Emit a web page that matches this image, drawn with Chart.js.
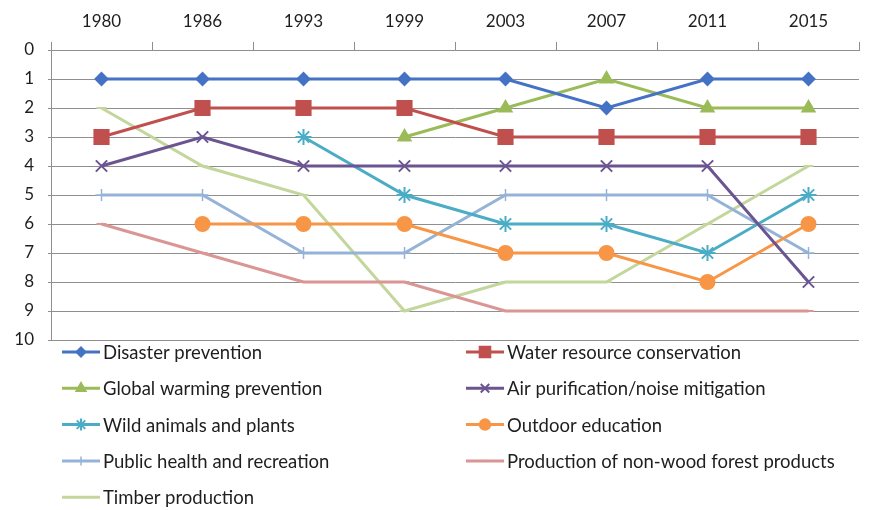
<!DOCTYPE html>
<html>
<head>
<meta charset="utf-8">
<script src="https://cdn.jsdelivr.net/npm/chart.js@4/dist/chart.umd.min.js"></script>
<style>
  html, body { margin: 0; background: #fff; }
  #wrap { width: 873px; height: 510px; position: relative; }
</style>
</head>
<body>
<div id="wrap"><canvas id="c"></canvas></div>
<script>
const years = ["1980", "1986", "1993", "1999", "2003", "2007", "2011", "2015"];
const yTicks = [0, 1, 2, 3, 4, 5, 6, 7, 8, 9, 10];

const disasterPrevention = [1, 1, 1, 1, 1, 2, 1, 1];
const waterConservation = [3, 2, 2, 2, 3, 3, 3, 3];
const globalWarming = [null, null, null, 3, 2, 1, 2, 2];
const airPurification = [4, 3, 4, 4, 4, 4, 4, 8];
const wildAnimals = [null, null, 3, 5, 6, 6, 7, 5];
const outdoorEducation = [null, 6, 6, 6, 7, 7, 8, 6];
const publicHealth = [5, 5, 7, 7, 5, 5, 5, 7];
const nonWoodProducts = [6, 7, 8, 8, 9, 9, 9, 9];
const timberProduction = [2, 4, 5, 9, 8, 8, 6, 4];

const FONT = "Lato";
const GRID = "#8f8f8f";

function series(label, data, color, style, radius, extra) {
  return Object.assign({
    label,
    data,
    borderColor: color,
    backgroundColor: color,
    pointBackgroundColor: color,
    pointBorderColor: color,
    pointStyle: style,
    pointRadius: radius,
    pointHoverRadius: radius,
    pointBorderWidth: 2,
    borderWidth: 3,
    tension: 0,
    fill: false
  }, extra || {});
}

const datasets = [
  series("Disaster prevention", disasterPrevention, "#4472c4", "rectRot", 6),
  series("Water resource conservation", waterConservation, "#c0504d", "rect", 10),
  series("Global warming prevention", globalWarming, "#9bbb59", "triangle", 7),
  series("Air purification/noise mitigation", airPurification, "#6b5591", "crossRot", 8),
  series("Wild animals and plants", wildAnimals, "#4bacc6", "star", 8),
  series("Outdoor education", outdoorEducation, "#f79646", "circle", 7),
  series("Public health and recreation", publicHealth, "#95b3d7", "cross", 6, { pointBorderWidth: 1.5 }),
  series("Production of non-wood forest products", nonWoodProducts, "#d99694", "line", 5),
  series("Timber production", timberProduction, "#c3d69b", "line", 5)
];

const bottomLegend = {
  id: "bottomLegend",
  afterDraw(chart) {
    const ctx = chart.ctx;
    chart.data.datasets.forEach((ds, i) => {
      const col = i % 2;
      const row = Math.floor(i / 2);
      const x = col ? 466 : 62;
      const y = 352 + row * 36.3;
      ctx.save();
      ctx.strokeStyle = ds.borderColor;
      ctx.fillStyle = ds.borderColor;
      ctx.lineWidth = 3;
      ctx.beginPath();
      ctx.moveTo(x, y);
      ctx.lineTo(x + 38, y);
      ctx.stroke();
      ctx.lineWidth = ds.pointBorderWidth;
      if (Chart.helpers && Chart.helpers.drawPoint) {
        Chart.helpers.drawPoint(ctx, {
          pointStyle: ds.pointStyle,
          radius: ds.pointRadius * 0.75,
          rotation: 0,
          borderWidth: ds.pointBorderWidth
        }, x + 19, y);
      }
      ctx.fillStyle = "#1e1e1e";
      ctx.font = "18.5px " + FONT;
      ctx.textBaseline = "middle";
      ctx.textAlign = "left";
      ctx.fillText(ds.label, x + 41, y + 1);
      ctx.restore();
    });
  }
};

new Chart(document.getElementById("c"), {
  type: "line",
  data: { labels: years, datasets },
  plugins: [bottomLegend],
  options: {
    responsive: true,
    maintainAspectRatio: false,
    animation: false,
    layout: { padding: { left: 0, right: 14, top: 0, bottom: 170 } },
    plugins: {
      legend: { display: false },
      tooltip: { enabled: false }
    },
    scales: {
      x: {
        position: "top",
        offset: true,
        afterFit(scale) { scale.height = 50; },
        grid: {
          offset: true,
          drawOnChartArea: false,
          drawTicks: true,
          tickLength: 8,
          color: GRID
        },
        border: { color: GRID, width: 1 },
        ticks: {
          color: "#1e1e1e",
          padding: 10,
          maxRotation: 0,
          font: { family: FONT, size: 17 }
        }
      },
      y: {
        reverse: true,
        min: 0,
        max: 10,
        afterFit(scale) { scale.width = 51; },
        afterBuildTicks(scale) { scale.ticks = yTicks.map(v => ({ value: v })); },
        grid: {
          color: GRID,
          tickLength: 3
        },
        border: { color: GRID, width: 1 },
        ticks: {
          color: "#1e1e1e",
          padding: 14,
          font: { family: FONT, size: 17 }
        }
      }
    }
  }
});
</script>
</body>
</html>
